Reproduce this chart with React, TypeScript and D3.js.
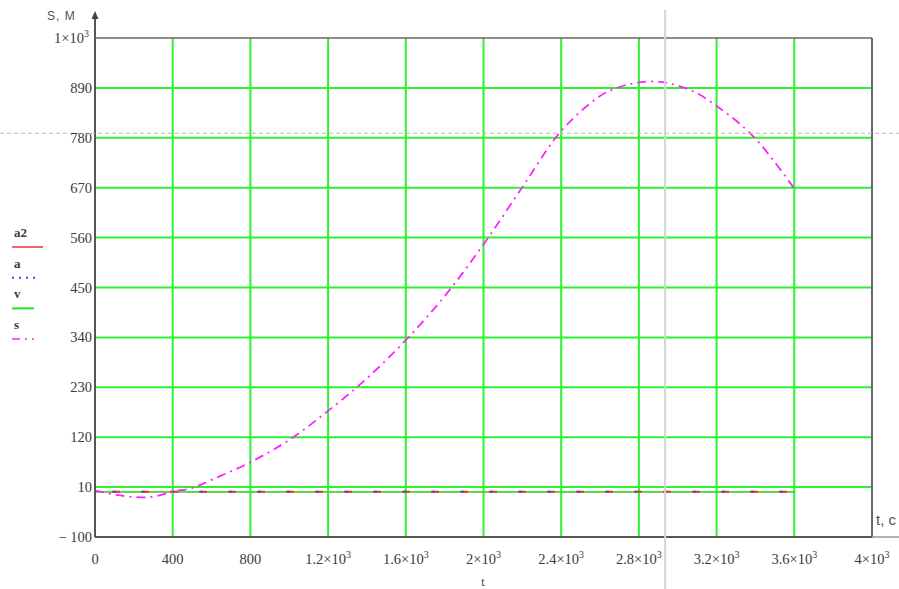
import React from 'react';
import * as d3 from 'd3';

// s(t)
const sTimes = [0, 100, 200, 300, 400, 500, 600, 800, 1000, 1200, 1400, 1600, 1800, 2000, 2200, 2400, 2600, 2700, 2800, 2900, 3000, 3100, 3200, 3300, 3400, 3500, 3600];
const sValues = [2, -6, -12, -11, 0, 8, 26, 65, 114, 178, 250, 334, 431, 545, 671, 795, 872, 892, 902, 904, 895, 878, 850, 818, 778, 726, 668];

// a2, a, v lie flat near zero over the same time range
const flatTimes = [0, 3600];
const a2Values = [0, 0];
const aValues = [0, 0];
const vValues = [0, 0];

const xTicks = [0, 400, 800, 1200, 1600, 2000, 2400, 2800, 3200, 3600, 4000];
const yTicks = [-100, 10, 120, 230, 340, 450, 560, 670, 780, 890, 1000];

const cursorT = 2935;
const cursorS = 790;

const legendItems = [
  { name: 'a2', color: '#f03030', dash: '', width: 1.5 },
  { name: 'a', color: '#4040ff', dash: '2,5', width: 2 },
  { name: 'v', color: '#22e022', dash: '', width: 2 },
  { name: 's', color: '#ff22ff', dash: '8,5,2,5', width: 1.5 },
];

const W = 899;
const H = 589;
const left = 95;
const right = 872;
const top = 38;
const bottom = 537;

const gridColor = '#2ef02e';
const textColor = '#3a3a3a';
const serif = '"Liberation Serif", "Times New Roman", serif';
const sans = '"Liberation Sans", Arial, sans-serif';

function SciLabel({ x, y, mant, anchor }: { x: number; y: number; mant: string; anchor: string }) {
  return (
    <text x={x} y={y} textAnchor={anchor} fontFamily={serif} fontSize={14.5} fill={textColor}>
      {mant}
      <tspan>×10</tspan>
      <tspan dy={-6} fontSize={10}>3</tspan>
    </text>
  );
}

function fmtX(v: number) {
  if (v < 1000) return null;
  const m = v / 1000;
  return String(m);
}

export default function App() {
  const x = d3.scaleLinear().domain([0, 4000]).range([left, right]);
  const y = d3.scaleLinear().domain([-100, 1000]).range([bottom, top]);

  const sLine = d3
    .line<number>()
    .x((_, i) => x(sTimes[i]))
    .y((d) => y(d))
    .curve(d3.curveCatmullRom.alpha(0.5));

  const flatLine = d3
    .line<number>()
    .x((_, i) => x(flatTimes[i]))
    .y((d) => y(d));

  return (
    <svg width={W} height={H} style={{ position: 'absolute', left: 0, top: 0, background: '#fff' }}>
      {/* grid */}
      {xTicks.slice(1, -1).map((t) => (
        <line key={'gx' + t} x1={x(t)} x2={x(t)} y1={top} y2={bottom} stroke={gridColor} strokeWidth={2} />
      ))}
      {yTicks.slice(1, -1).map((v) => (
        <line key={'gy' + v} x1={left} x2={right} y1={y(v)} y2={y(v)} stroke={gridColor} strokeWidth={2} />
      ))}

      {/* flat series */}
      <path d={flatLine(a2Values) || ''} fill="none" stroke="#f03030" strokeWidth={1.5} />
      <path d={flatLine(vValues) || ''} fill="none" stroke={gridColor} strokeWidth={1.5} />
      <path d={flatLine(a2Values) || ''} fill="none" stroke="#f03030" strokeWidth={2} strokeDasharray="0,17,8,4" />
      <path d={flatLine(aValues) || ''} fill="none" stroke="#4848ff" strokeWidth={2} strokeDasharray="0,18,3,8" />

      {/* s curve */}
      <path d={sLine(sValues) || ''} fill="none" stroke="#ff22ff" strokeWidth={1.8} strokeDasharray="9,5,2,5" />

      {/* frame */}
      <line x1={left} x2={right} y1={top} y2={top} stroke="#666" strokeWidth={1.5} />
      <line x1={right} x2={right} y1={top} y2={bottom} stroke="#666" strokeWidth={2} />
      <line x1={left} x2={right} y1={bottom} y2={bottom} stroke="#555" strokeWidth={2} />
      <line x1={right} x2={W} y1={bottom} y2={bottom} stroke="#999" strokeWidth={1.5} />
      <line x1={left} x2={left} y1={14} y2={bottom} stroke="#555" strokeWidth={2} />
      <path d={`M${left},11 L${left - 3.5},19 L${left + 3.5},19 Z`} fill="#444" />

      {/* cursor lines */}
      <line x1={x(cursorT)} x2={x(cursorT)} y1={10} y2={H} stroke="#d4d4d4" strokeWidth={2} />
      <line x1={0} x2={W} y1={y(cursorS)} y2={y(cursorS)} stroke="#bbb" strokeWidth={1} strokeDasharray="4,3" />

      {/* y tick labels */}
      {yTicks.map((v) =>
        v === 1000 ? (
          <SciLabel key={'yl' + v} x={89} y={y(v) + 5} mant="1" anchor="end" />
        ) : (
          <text key={'yl' + v} x={92} y={y(v) + 5} textAnchor="end" fontFamily={serif} fontSize={14.5} fill={textColor}>
            {v < 0 ? '\u2212 ' + Math.abs(v) : v}
          </text>
        )
      )}

      {/* x tick labels */}
      {xTicks.map((t) => {
        const m = fmtX(t);
        return m === null ? (
          <text key={'xl' + t} x={x(t)} y={564} textAnchor="middle" fontFamily={serif} fontSize={14.5} fill={textColor}>
            {t}
          </text>
        ) : (
          <SciLabel key={'xl' + t} x={x(t)} y={564} mant={m} anchor="middle" />
        );
      })}

      {/* axis titles */}
      <text x={47} y={20} fontFamily={sans} fontSize={12} fill="#555" letterSpacing={1}>
        S, M
      </text>
      <text x={876} y={525} fontFamily={sans} fontSize={15} fill="#555">
        t, c
      </text>
      <text x={483} y={586} textAnchor="middle" fontFamily={serif} fontSize={12} fill={textColor}>
        t
      </text>

      {/* legend */}
      {legendItems.map((d, i) => {
        const ty = 237 + i * 30.7;
        return (
          <g key={d.name}>
            <text x={14} y={ty} fontFamily={serif} fontSize={13} fontWeight="bold" fill={textColor}>
              {d.name}
            </text>
            <line
              x1={12}
              x2={d.name === 'a2' ? 43 : d.name === 'a' ? 38 : 34}
              y1={ty + 10}
              y2={ty + 10}
              stroke={d.color}
              strokeWidth={d.width}
              strokeDasharray={d.dash}
            />
          </g>
        );
      })}
    </svg>
  );
}
